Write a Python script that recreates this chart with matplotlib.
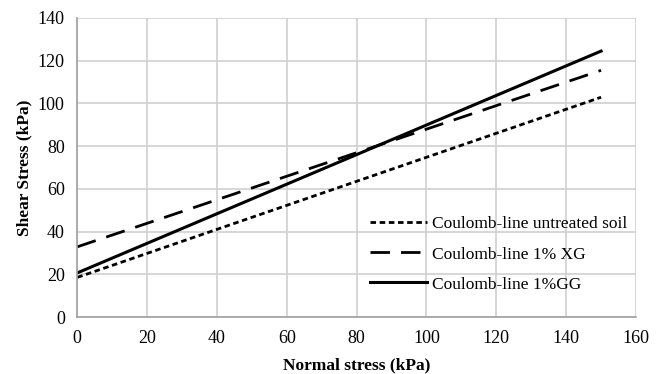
import numpy as np
import matplotlib.pyplot as plt

# Coulomb failure lines (start at 0 kPa, end at 150 kPa)
normal_stress = np.array([0, 150])
untreated = np.array([18.6, 102.9])
xg_1pct = np.array([32.9, 115.5])
gg_1pct = np.array([20.7, 124.5])

labels = ["Coulomb-line untreated soil", "Coulomb-line 1% XG", "Coulomb-line 1%GG"]

plt.rcParams["font.family"] = "Liberation Serif"

fig = plt.figure(figsize=(6.66, 3.74), dpi=100)
ax = fig.add_axes([0.116, 0.152, 0.839, 0.8])

ax.plot(normal_stress, untreated, color="black", lw=2.0, dashes=(2.0, 1.3), label=labels[0])
ax.plot(normal_stress, xg_1pct, color="black", lw=2.0, dashes=(7, 4), label=labels[1])
ax.plot(normal_stress, gg_1pct, color="black", lw=2.2, label=labels[2])

ax.set_xlim(0, 160)
ax.set_ylim(0, 140)
ax.set_xticks(np.arange(0, 161, 20))
ax.set_yticks(np.arange(0, 141, 20))
ax.grid(True, color="#d0d0d0", lw=1.2)
ax.set_axisbelow(True)
for s in ["top", "right"]:
    ax.spines[s].set_visible(False)
for s in ["left", "bottom"]:
    ax.spines[s].set_color("#a0a0a0")
    ax.spines[s].set_linewidth(1.2)
ax.tick_params(length=0, labelsize=13, pad=9)

ax.set_xlabel("Normal stress (kPa)", fontsize=12.5, fontweight="bold", labelpad=8)
ax.set_ylabel("Shear Stress (kPa)", fontsize=12.5, fontweight="bold", labelpad=4)

ax.legend(loc="lower right", bbox_to_anchor=(1.013, 0.03), frameon=False,
          fontsize=12.5, handlelength=3.3, handletextpad=0.3, labelspacing=0.8)

plt.savefig("out.png", dpi=100)
